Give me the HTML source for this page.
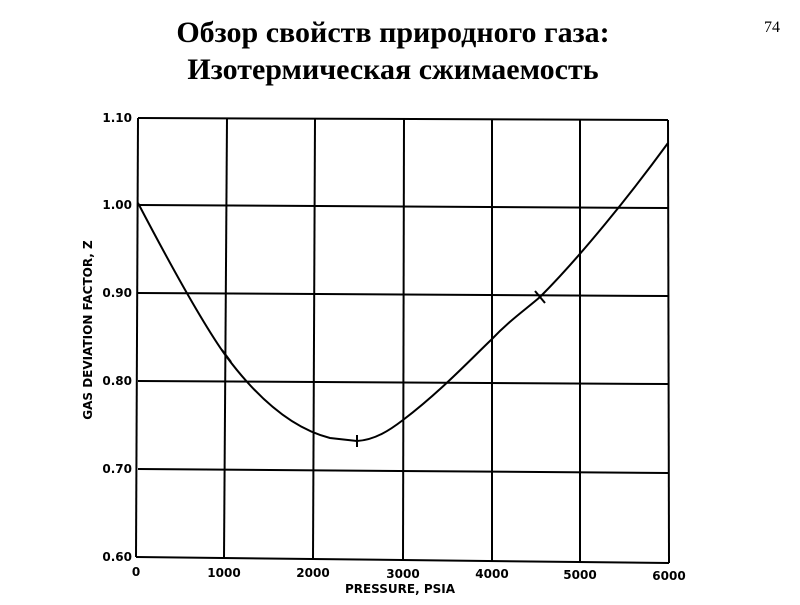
<!DOCTYPE html>
<html><head><meta charset="utf-8"><style>
body{margin:0;background:#fff;width:800px;height:600px;overflow:hidden}
</style></head><body>
<svg width="800" height="600" xmlns="http://www.w3.org/2000/svg">
<text x="393" y="42" text-anchor="middle" font-family="Liberation Serif, serif" font-size="30" font-weight="bold">Обзор свойств природного газа:</text>
<text x="393" y="79" text-anchor="middle" font-family="Liberation Serif, serif" font-size="30" font-weight="bold">Изотермическая сжимаемость</text>
<text x="780" y="32" text-anchor="end" font-family="Liberation Serif, serif" font-size="16">74</text>
<g stroke="#000" stroke-width="2" fill="none">
<line x1="138" y1="118" x2="668" y2="120"/>
<line x1="138" y1="205" x2="668" y2="208"/>
<line x1="138" y1="293" x2="668" y2="296"/>
<line x1="138" y1="381" x2="668" y2="384"/>
<line x1="138" y1="469" x2="668" y2="473"/>
<line x1="136" y1="557" x2="669" y2="563"/>
<line x1="138" y1="118" x2="136" y2="557"/>
<line x1="227" y1="118" x2="224" y2="558"/>
<line x1="315" y1="118" x2="313" y2="559"/>
<line x1="404" y1="118" x2="403" y2="560"/>
<line x1="492" y1="119" x2="492" y2="561"/>
<line x1="580" y1="119" x2="580" y2="562"/>
<line x1="668" y1="120" x2="669" y2="563"/>
<path d="M138,203 C160,245 200,320 226,356 C255,395 290,428 330,438 L357,441 C375,440 390,430 403,420 C440,392 470,360 491,340 C510,320 525,310 540,297 C580,257 630,195 668,143"/>
<line x1="222" y1="350" x2="231" y2="362"/>
<line x1="357" y1="435" x2="357" y2="447"/>
<line x1="535" y1="291" x2="545" y2="303"/>
</g>
<g font-family="DejaVu Sans, sans-serif" font-size="12" fill="#000" font-weight="bold">
<text x="132" y="122" text-anchor="end">1.10</text>
<text x="132" y="209" text-anchor="end">1.00</text>
<text x="132" y="297" text-anchor="end">0.90</text>
<text x="132" y="385" text-anchor="end">0.80</text>
<text x="132" y="473" text-anchor="end">0.70</text>
<text x="132" y="561" text-anchor="end">0.60</text>
<text x="136" y="576" text-anchor="middle">0</text>
<text x="224" y="577" text-anchor="middle">1000</text>
<text x="313" y="577" text-anchor="middle">2000</text>
<text x="403" y="578" text-anchor="middle">3000</text>
<text x="492" y="578" text-anchor="middle">4000</text>
<text x="580" y="579" text-anchor="middle">5000</text>
<text x="669" y="580" text-anchor="middle">6000</text>
<text x="400" y="593" text-anchor="middle">PRESSURE, PSIA</text>
<text transform="translate(92,330) rotate(-90)" text-anchor="middle">GAS DEVIATION FACTOR, Z</text>
</g>
</svg>
</body></html>
